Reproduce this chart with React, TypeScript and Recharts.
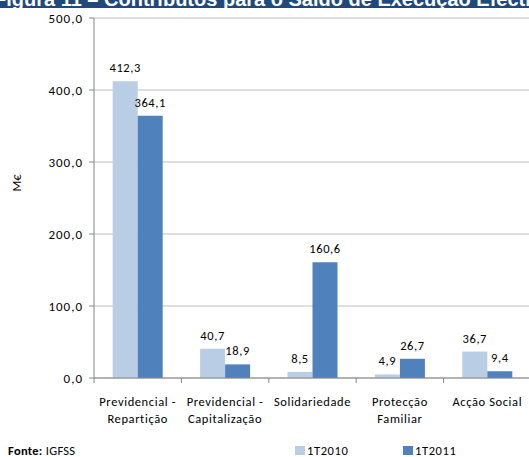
import { BarChart, Bar, XAxis, YAxis, CartesianGrid, LabelList } from 'recharts'

const categorias = [
  ['Previdencial -', 'Repartição'],
  ['Previdencial -', 'Capitalização'],
  ['Solidariedade'],
  ['Protecção', 'Familiar'],
  ['Acção Social'],
]
const valores2010 = [412.3, 40.7, 8.5, 4.9, 36.7]
const valores2011 = [364.1, 18.9, 160.6, 26.7, 9.4]
const yTicks = [0, 100, 200, 300, 400, 500]
const series = [
  { key: 'v2010', name: '1T2010', color: '#b9cde5' },
  { key: 'v2011', name: '1T2011', color: '#4f81bd' },
]

const data = categorias.map((c, i) => ({
  cat: c.join('|'),
  v2010: valores2010[i],
  v2011: valores2011[i],
}))

const FONT = "Carlito, 'Liberation Sans', Arial, sans-serif"
const fmt = (v: number) => v.toFixed(1).replace('.', ',')

function CatTick(props: any) {
  const { x, y, payload, index } = props
  const half = payload.offset || 43.6
  const lines = String(payload.value).split('|')
  return (
    <g>
      <line x1={x - half} x2={x - half} y1={y - 8} y2={y - 3} stroke='#868686' />
      {index === categorias.length - 1 &&
        <line x1={x + half} x2={x + half} y1={y - 8} y2={y - 3} stroke='#868686' />}
      <text x={x} y={y + 20} textAnchor='middle' fontSize={12.5} fill='#000'
        fontFamily={FONT} letterSpacing={0.6}>
        {lines.map((l, i) => <tspan key={i} x={x} dy={i === 0 ? 0 : 17}>{l}</tspan>)}
      </text>
    </g>
  )
}

export default function App() {
  return (
    <div style={{ position: 'absolute', left: 0, top: 0, width: 529, height: 457,
      overflow: 'hidden', background: 'white', fontFamily: FONT }}>
      <div style={{ position: 'absolute', left: 0, top: 0, width: 529, height: 8,
        background: '#1f497d', overflow: 'hidden' }}>
        <div style={{ position: 'absolute', left: -6, top: -12, whiteSpace: 'nowrap',
          color: 'white', fontWeight: 'bold', fontSize: 20,
          fontFamily: "'Liberation Sans', Arial, sans-serif" }}>
          Figura 11 – Contributos para o Saldo de Execução Efectiva
        </div>
      </div>
      <div style={{ position: 'absolute', left: 8, top: 443, fontSize: 12.5,
        letterSpacing: 0.3 }}>
        <b>Fonte:</b> IGFSS
      </div>
      <div style={{ position: 'absolute', left: 295, top: 443, display: 'flex',
        fontSize: 12.5, letterSpacing: 0.6 }}>
        {series.map(s => (
          <div key={s.key} style={{ display: 'flex', alignItems: 'center', width: 108 }}>
            <span style={{ width: 10, height: 9, background: s.color, marginRight: 2 }} />
            <span>{s.name}</span>
          </div>
        ))}
      </div>
      <div style={{ position: 'absolute', left: 16, top: 183, fontSize: 12.5,
        transform: 'translate(-50%, -50%) rotate(-90deg)' }}>M€</div>
      <BarChart width={531} height={457} data={data}
        margin={{ top: 18, right: 0, left: 0, bottom: 0 }}
        barCategoryGap='21.4%' barGap={0}>
        <CartesianGrid vertical={false} stroke='#c0c0c0' />
        <XAxis dataKey='cat' interval={0} tickLine={false} stroke='#868686'
          height={79} tick={<CatTick />} />
        <YAxis width={94} domain={[0, 500]} ticks={yTicks} tickFormatter={fmt}
          stroke='#868686' tickSize={5} tickMargin={6}
          tick={{ fontSize: 13, fill: '#000', fontFamily: FONT, letterSpacing: 1 }} />
        {series.map(s => (
          <Bar key={s.key} dataKey={s.key} name={s.name} fill={s.color}
            isAnimationActive={false}>
            <LabelList dataKey={s.key} position='top' offset={9} formatter={fmt}
              style={{ fontSize: 12.5, fill: '#000', fontFamily: FONT, letterSpacing: 0.6 }} />
          </Bar>
        ))}
      </BarChart>
    </div>
  )
}
